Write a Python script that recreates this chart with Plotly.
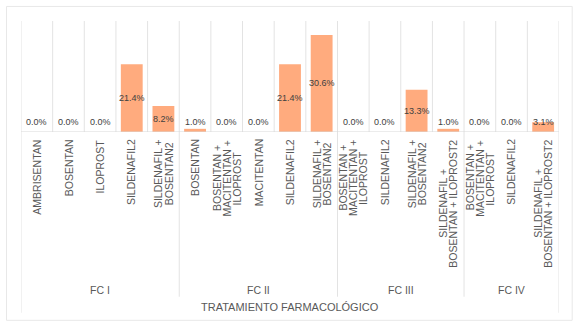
import plotly.graph_objects as go

groups = ["FC I", "FC II", "FC III", "FC IV"]
group_sizes = [5, 5, 4, 3]
categories = [
    "AMBRISENTAN", "BOSENTAN", "ILOPROST", "SILDENAFIL2", "SILDENAFIL +\nBOSENTAN2",
    "BOSENTAN", "BOSENTAN +\nMACITENTAN +\nILOPROST", "MACITENTAN", "SILDENAFIL2", "SILDENAFIL +\nBOSENTAN2",
    "BOSENTAN +\nMACITENTAN +\nILOPROST", "SILDENAFIL2", "SILDENAFIL +\nBOSENTAN2", "SILDENAFIL +\nBOSENTAN + ILOPROST2",
    "BOSENTAN +\nMACITENTAN +\nILOPROST", "SILDENAFIL2", "SILDENAFIL +\nBOSENTAN + ILOPROST2",
]
values = [0.0, 0.0, 0.0, 21.4, 8.2, 1.0, 0.0, 0.0, 21.4, 30.6, 0.0, 0.0, 13.3, 1.0, 0.0, 0.0, 3.1]
axis_title = "TRATAMIENTO FARMACOLÓGICO"

W, H = 579, 326
L, R, T, B = 21, 19.7, 21, 194.3
plot_h = H - T - B
YMAX = 35.0
px_per_unit = plot_h / YMAX


def py(pix):
    return (H - B - pix) / plot_h


def px(pix):
    return (pix - L) / (W - L - R)


ARIAL = {"A": 667, "B": 667, "C": 722, "D": 722, "E": 667, "F": 611, "G": 778, "H": 722,
         "I": 278, "J": 500, "K": 667, "L": 556, "M": 833, "N": 722, "O": 778, "P": 667,
         "Q": 778, "R": 722, "S": 667, "T": 611, "U": 722, "V": 667, "W": 944, "X": 667,
         "Y": 667, "Z": 611, " ": 278, "+": 584}


def text_w(s, size):
    return sum(ARIAL.get(c, 556) for c in s) * size / 1000.0


n = len(categories)
idx = list(range(n))
FONT = "Liberation Sans, Arial, sans-serif"
GRID = "#e3e3e3"
LBL = 10.5
LINE_PITCH = 10.3

fig = go.Figure()
fig.add_trace(go.Bar(x=idx, y=values, marker=dict(color="#FFAB7E", line=dict(width=0)),
                     width=0.69, hoverinfo="skip"))

shapes = []
for i in range(n + 1):
    shapes.append(dict(type="line", xref="x", yref="paper", x0=i - 0.5, x1=i - 0.5,
                       y0=0, y1=1, line=dict(color=GRID, width=1), layer="below"))
bounds = [0]
for s in group_sizes:
    bounds.append(bounds[-1] + s)
for j, b in enumerate(bounds):
    ylow = py(312) if (j == 0 or j == len(bounds) - 1) else py(296)
    shapes.append(dict(type="line", xref="x", yref="paper", x0=b - 0.5, x1=b - 0.5,
                       y0=0, y1=ylow, line=dict(color=GRID, width=1)))
shapes.append(dict(type="line", xref="paper", yref="y", x0=0, x1=1, y0=0, y1=0,
                   line=dict(color="#d9d9d9", width=1)))
shapes.append(dict(type="rect", xref="paper", yref="paper", x0=px(6.5), x1=px(572.5),
                   y0=py(319.5), y1=py(6.5), line=dict(color="#e8e8e8", width=1)))

annotations = []
min_label = 10 / px_per_unit
for i, v in zip(idx, values):
    annotations.append(dict(x=i, y=max(v / 2, min_label), xref="x", yref="y",
                            text=f"{v:.1f}%", showarrow=False, yanchor="middle",
                            font=dict(family=FONT, size=9, color="#404040")))
for i, c in zip(idx, categories):
    lines = c.split("\n")
    m = len(lines)
    maxw = max(text_w(t, LBL) for t in lines)
    for k, t in enumerate(lines):
        top = 138 + (maxw - text_w(t, LBL)) / 2
        annotations.append(dict(x=i, y=py(top), xref="x", yref="paper", text=t,
                                showarrow=False, textangle=-90, yanchor="top", xanchor="center",
                                xshift=(k - (m - 1) / 2) * LINE_PITCH,
                                borderpad=0,
                                font=dict(family=FONT, size=LBL, color="#595959")))
for j, g in enumerate(groups):
    cx = (bounds[j] + bounds[j + 1] - 1) / 2
    annotations.append(dict(x=cx, y=py(289.5), xref="x", yref="paper", text=g,
                            showarrow=False, yanchor="middle",
                            font=dict(family=FONT, size=10.5, color="#595959")))
annotations.append(dict(x=px(290), y=py(306), xref="paper", yref="paper", text=axis_title,
                        showarrow=False, yanchor="middle",
                        font=dict(family=FONT, size=11, color="#595959")))

fig.update_layout(
    width=W, height=H,
    margin=dict(l=L, r=R, t=T, b=B),
    paper_bgcolor="white", plot_bgcolor="white",
    showlegend=False,
    xaxis=dict(range=[-0.5, n - 0.5], showgrid=False, zeroline=False, showticklabels=False,
               showline=False, ticks="", fixedrange=True),
    yaxis=dict(range=[0, YMAX], showgrid=False, zeroline=False, showticklabels=False,
               showline=False, ticks="", fixedrange=True),
    shapes=shapes,
    annotations=annotations,
)

fig.write_html("out.html", config={"displayModeBar": False},
               post_script="document.body.style.margin='0';document.body.style.overflow='hidden';")
